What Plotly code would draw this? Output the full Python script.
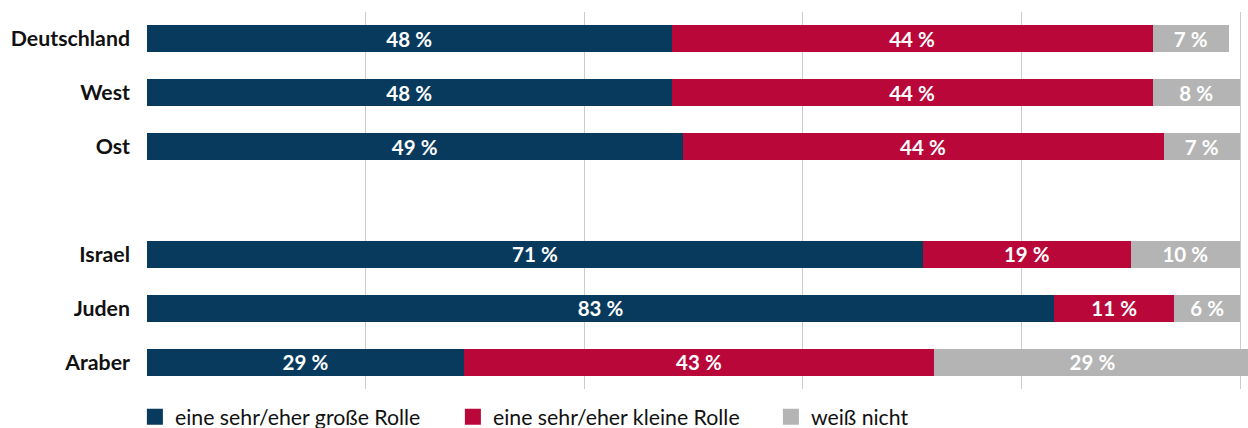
import plotly.graph_objects as go

categories = ["Deutschland", "West", "Ost", " ", "Israel", "Juden", "Araber"]
gross = [48, 48, 49, None, 71, 83, 29]
klein = [44, 44, 44, None, 19, 11, 43]
weiss = [7, 8, 7, None, 10, 6, 29]
series_names = ["eine sehr/eher große Rolle", "eine sehr/eher kleine Rolle", "weiß nicht"]
colors = ["#073A5C", "#BA073A", "#B4B4B4"]

fig = go.Figure()
for name, vals, col in zip(series_names, [gross, klein, weiss], colors):
    fig.add_trace(go.Bar(
        y=categories, x=vals, name=name, orientation="h",
        marker=dict(color=col, line=dict(width=0)),
        text=[f"{v}\u202f%" if v is not None else "" for v in vals],
        textposition="inside", insidetextanchor="middle", textangle=0,
        constraintext="none",
        textfont=dict(family="Lato", size=20.5, color="white", weight="bold"),
        hoverinfo="skip", showlegend=False,
    ))
# legend entries with larger square symbols
for name, col in zip(series_names, colors):
    fig.add_trace(go.Scatter(
        x=[None], y=[None], mode="markers", name=name,
        marker=dict(symbol="square", size=16, color=col),
        hoverinfo="skip", showlegend=True,
    ))

fig.update_layout(
    barmode="stack",
    bargap=0.5,
    width=1248, height=428,
    margin=dict(l=147, r=0, t=12, b=39, autoexpand=False),
    plot_bgcolor="white", paper_bgcolor="white",
    font=dict(family="Lato", color="#111111"),
    showlegend=True,
    legend=dict(
        orientation="h", x=-0.011, xanchor="left",
        y=-0.074, yanchor="middle",
        font=dict(family="Lato", size=21.3, color="#111111"),
        entrywidth=273, entrywidthmode="pixels",
        traceorder="normal",
    ),
    xaxis=dict(
        range=[0, 100.73], dtick=20, tick0=0, showticklabels=False,
        showgrid=True, gridcolor="#CCCCCC", gridwidth=1,
        zeroline=False, showline=False, ticks="",
    ),
    yaxis=dict(
        categoryorder="array", categoryarray=categories, autorange="reversed",
        showgrid=False, zeroline=False, showline=False, ticks="",
        tickfont=dict(family="Lato", size=21.3, color="#111111", weight="bold"),
        ticklabelstandoff=16,
    ),
)

fig.write_html(
    "out.html",
    config={"displayModeBar": False},
    post_script="document.body.style.margin='0';document.body.style.overflow='hidden';",
)
